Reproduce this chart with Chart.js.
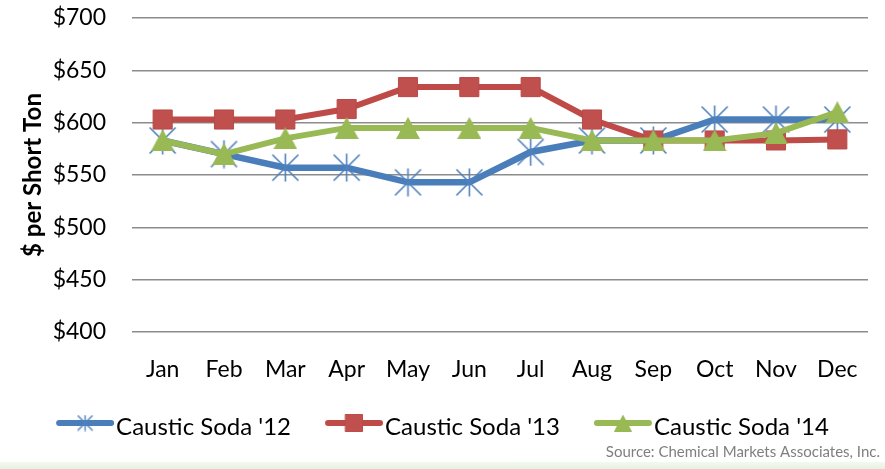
<!DOCTYPE html>
<html>
<head>
<meta charset="utf-8">
<script src="https://cdn.jsdelivr.net/npm/chart.js@4"></script>
<style>
  html, body { margin: 0; padding: 0; background: #fff; }
  #wrap { position: relative; width: 885px; height: 469px; overflow: hidden; }
  #band { position: absolute; left: 0; right: 0; top: 462px; height: 7px;
          background: linear-gradient(to bottom, #f3f9f1, #e6f1e2); }
</style>
</head>
<body>
<div id="wrap">
  <canvas id="soda-chart" width="885" height="469"></canvas>
  <div id="band"></div>
</div>
<script>
const months = ["Jan", "Feb", "Mar", "Apr", "May", "Jun", "Jul", "Aug", "Sep", "Oct", "Nov", "Dec"];
const soda12 = [583, 570, 557, 557, 543, 543, 572, 583, 583, 603, 603, 603];
const soda13 = [603, 603, 603, 613, 634, 634, 634, 603, 583, 583, 583, 584];
const soda14 = [583, 570, 585, 595, 595, 595, 595, 583, 583, 583, 590, 610];
const seriesNames = ["Caustic Soda '12", "Caustic Soda '13", "Caustic Soda '14"];
const yTicks = [400, 450, 500, 550, 600, 650, 700];

const BLUE = "#4a7ebb";
const RED = "#be4b48";
const GREEN = "#98b954";
const FONT = "Lato, 'Open Sans', sans-serif";

// asterisk marker: vertical stroke plus an X
function makeStar(size, lw, color) {
    const c = document.createElement("canvas");
    c.width = size;
    c.height = size;
    const g = c.getContext("2d");
    g.strokeStyle = color;
    g.lineWidth = lw;
    const m = size / 2;
    const r = size / 2 - 0.5;
    const d = r * 0.93;
    g.beginPath();
    g.moveTo(m, m - r); g.lineTo(m, m + r);
    g.moveTo(m - d, m - d); g.lineTo(m + d, m + d);
    g.moveTo(m - d, m + d); g.lineTo(m + d, m - d);
    g.stroke();
    return c;
}

// upward triangle centred on its bounding box
function makeTriangle(w, h, color) {
    const c = document.createElement("canvas");
    c.width = w;
    c.height = h;
    const g = c.getContext("2d");
    g.fillStyle = color;
    g.beginPath();
    g.moveTo(w / 2, 0);
    g.lineTo(w, h);
    g.lineTo(0, h);
    g.closePath();
    g.fill();
    return c;
}

const starBig = makeStar(29, 1.6, "#4f81bd");
const starSmall = makeStar(17, 1.4, "#4f81bd");
const triBig = makeTriangle(24, 22, GREEN);
const triSmall = makeTriangle(18, 17, GREEN);

// legend row: line segment with marker, then the name
const lineLegend = {
    id: "lineLegend",
    afterDraw(chart) {
        const ctx = chart.ctx;
        const y = 423;
        const segW = 58;
        const gap = 34;
        const marks = [
            { color: BLUE, style: starSmall, radius: 8 },
            { color: RED, style: "rect", radius: 12 },
            { color: GREEN, style: triSmall, radius: 8 }
        ];
        ctx.save();
        ctx.font = "24px " + FONT;
        const widths = seriesNames.map(n => segW + 2 + ctx.measureText(n).width);
        const total = widths.reduce((a, b) => a + b, 0) + gap * (widths.length - 1);
        let x = (chart.width - total) / 2;
        seriesNames.forEach((name, i) => {
            const mk = marks[i];
            ctx.strokeStyle = mk.color;
            ctx.lineWidth = 6;
            ctx.lineCap = "round";
            ctx.beginPath();
            ctx.moveTo(x + 3, y);
            ctx.lineTo(x + segW - 3, y);
            ctx.stroke();
            ctx.fillStyle = "#c0504d";
            ctx.strokeStyle = mk.color;
            ctx.lineWidth = 1;
            Chart.helpers.drawPoint(ctx, { pointStyle: mk.style, radius: mk.radius, borderWidth: 1, rotation: 0 }, x + segW / 2, y);
            ctx.fillStyle = "#000";
            ctx.textAlign = "left";
            ctx.textBaseline = "middle";
            ctx.fillText(name, x + segW + 2, y + 4);
            x += widths[i] + gap;
        });

        ctx.font = "15px " + FONT;
        ctx.fillStyle = "#7f7f7f";
        ctx.textAlign = "right";
        ctx.textBaseline = "middle";
        ctx.fillText("Source: Chemical Markets Associates, Inc.", 880, 452);

        // y axis title
        const area = chart.chartArea;
        ctx.translate(33, (area.top + area.bottom) / 2);
        ctx.rotate(-Math.PI / 2);
        ctx.font = "bold 24px " + FONT;
        ctx.fillStyle = "#000";
        ctx.textAlign = "center";
        ctx.fillText("$ per Short Ton", 0, 0);
        ctx.restore();
    }
};

const ctx = document.getElementById("soda-chart").getContext("2d");

new Chart(ctx, {
    type: "line",
    data: {
        labels: months,
        datasets: [
            {
                label: seriesNames[0],
                data: soda12,
                borderColor: BLUE,
                borderWidth: 6.5,
                pointStyle: starBig,
                order: 2
            },
            {
                label: seriesNames[1],
                data: soda13,
                borderColor: RED,
                borderWidth: 6,
                pointStyle: "rect",
                pointRadius: 13.5,
                pointBackgroundColor: "#c0504d",
                pointBorderColor: "#b94a47",
                pointBorderWidth: 1,
                order: 1
            },
            {
                label: seriesNames[2],
                data: soda14,
                borderColor: GREEN,
                borderWidth: 6,
                pointStyle: triBig,
                order: 0
            }
        ]
    },
    options: {
        responsive: false,
        animation: false,
        layout: { padding: { top: 18, right: 17, bottom: 0, left: 0 } },
        elements: { line: { tension: 0 } },
        plugins: {
            legend: { display: false },
            tooltip: { enabled: false }
        },
        scales: {
            x: {
                offset: true,
                grid: { display: false, drawTicks: false },
                border: { display: false },
                ticks: {
                    color: "#000",
                    font: { family: FONT, size: 23 },
                    padding: 24,
                    maxRotation: 0
                },
                afterFit(scale) {
                    scale.height = 137;
                    scale.paddingLeft = 0;
                    scale.paddingRight = 0;
                }
            },
            y: {
                min: 400,
                max: 700,
                afterBuildTicks(scale) { scale.ticks = yTicks.map(v => ({ value: v })); },
                grid: { color: "#8c8c8c", lineWidth: 1.5, drawTicks: false },
                border: { display: false },
                ticks: {
                    color: "#000",
                    font: { family: FONT, size: 23 },
                    padding: 26,
                    callback: v => "$" + v
                },
                afterFit(scale) {
                    scale.width = 132;
                    scale.paddingTop = 0;
                    scale.paddingBottom = 0;
                }
            }
        }
    },
    plugins: [lineLegend]
});
</script>
</body>
</html>
